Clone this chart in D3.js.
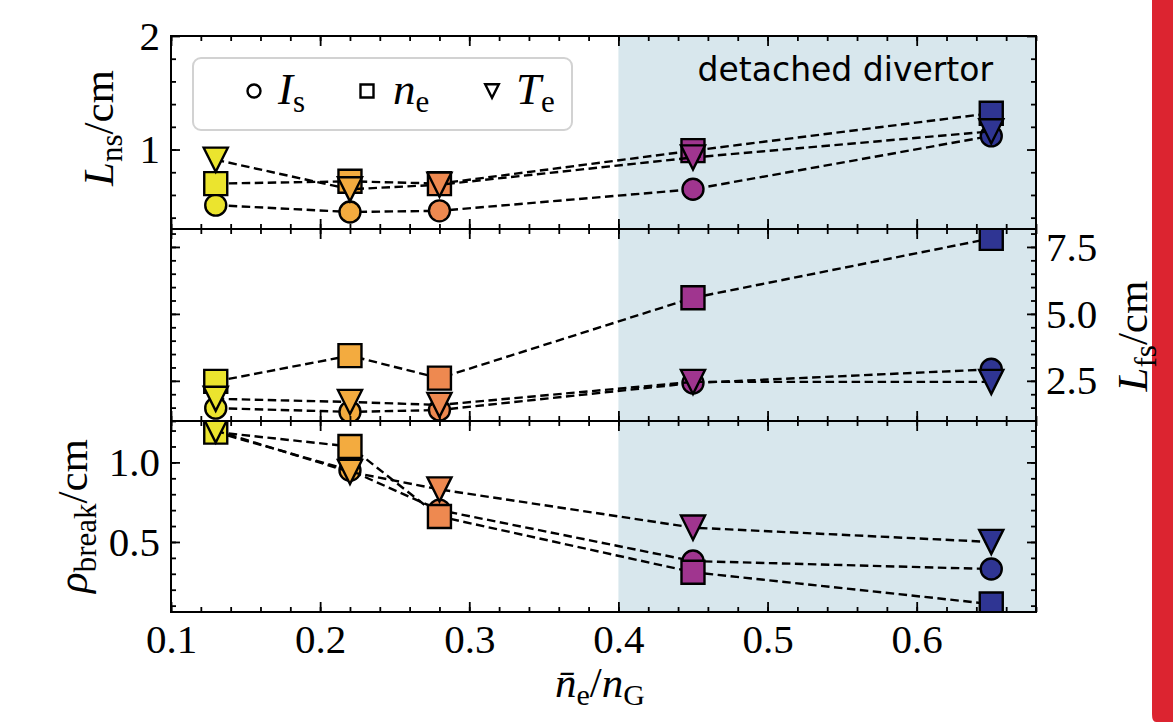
<!DOCTYPE html>
<html>
<head>
<meta charset="utf-8">
<script src="https://cdn.jsdelivr.net/npm/d3@7"></script>
<style>
  body { margin: 0; background: #fff; }
  text { font-family: 'Liberation Serif', serif; fill: #000; }
</style>
</head>
<body>
<script>
// density ratio nbar_e / n_G
var xVals = [0.13, 0.22, 0.28, 0.45, 0.65]
var pointColors = ['#ebe42e', '#f3ab3f', '#ee8950', '#a0358f', '#2f3593']

// near-SOL width L_ns (cm)
var lnsIs = [0.51, 0.45, 0.46, 0.65, 1.12]
var lnsNe = [0.70, 0.72, 0.70, 0.99, 1.32]
var lnsTe = [0.91, 0.65, 0.69, 0.93, 1.16]

// far-SOL width L_fs (cm)
var lfsIs = [1.48, 1.34, 1.41, 2.42, 2.93]
var lfsNe = [2.48, 3.44, 2.60, 5.60, 7.82]
var lfsTe = [1.83, 1.71, 1.60, 2.46, 2.46]

// break point rho_break (cm)
var rhoIs = [1.19, 0.95, 0.70, 0.38, 0.33]
var rhoNe = [1.19, 1.10, 0.66, 0.31, 0.11]
var rhoTe = [1.20, 0.94, 0.83, 0.59, 0.50]

var xTicks = [0.1, 0.2, 0.3, 0.4, 0.5, 0.6]
var lnsTicks = [1, 2]
var lfsTicks = [2.5, 5.0, 7.5]
var rhoTicks = [0.5, 1.0]
var detachedFrom = 0.4

var W = 1173, H = 722
var left = 171, right = 1036
var tickFont = '41px'

var svg = d3.select('body').append('svg').attr('width', W).attr('height', H)

var x = d3.scaleLinear().domain([0.1, 0.68]).range([left, right])

var panels = [
  {top: 36, bottom: 229, domain: [0.3, 2], series: [lnsIs, lnsNe, lnsTe],
    ticks: lnsTicks, minor: 0.2, side: 'left', fmt: d3.format('d')},
  {top: 229, bottom: 421, domain: [1.0, 8.17], series: [lfsIs, lfsNe, lfsTe],
    ticks: lfsTicks, minor: 0.5, side: 'right', fmt: d3.format('.1f')},
  {top: 421, bottom: 612, domain: [0.06, 1.26], series: [rhoIs, rhoNe, rhoTe],
    ticks: rhoTicks, minor: 0.1, side: 'left', fmt: d3.format('.1f')}
]

var shapes = ['circle', 'square', 'triangle']

function markerPath(shape, s){
  if (shape == 'circle') return d3.symbol(d3.symbolCircle, Math.PI*s*s)()
  if (shape == 'square') return `M${-s},${-s}H${s}V${s}H${-s}Z`
  var h = s*1.05
  return `M0,${h}L${-h},${-h}L${h},${-h}Z`
}

var defs = svg.append('defs')

// red strip on right edge
svg.append('path')
  .attr('d', `M1152,0H${W}V${H}H1156Q1152,${H} 1152,${H - 8}Z`)
  .attr('fill', '#dc2430')

panels.forEach((p, pi) => {
  var y = d3.scaleLinear().domain(p.domain).range([p.bottom, p.top])
  var id = 'clip' + pi
  defs.append('clipPath').attr('id', id)
    .append('rect').attr('x', left).attr('y', p.top)
    .attr('width', right - left).attr('height', p.bottom - p.top)

  var g = svg.append('g')

  // detached divertor region
  g.append('rect')
    .attr('x', x(detachedFrom)).attr('y', p.top)
    .attr('width', right - x(detachedFrom)).attr('height', p.bottom - p.top)
    .attr('fill', '#d8e7ed')

  var plot = g.append('g').attr('clip-path', `url(#${id})`)

  var line = d3.line().x((d, i) => x(xVals[i])).y(d => y(d))

  p.series.forEach((s, si) => {
    plot.append('path')
      .attr('d', line(s))
      .attr('fill', 'none')
      .attr('stroke', '#000')
      .attr('stroke-width', 2.4)
      .attr('stroke-dasharray', '8.5,4.5')

    plot.selectAll(null).data(s).enter().append('path')
      .attr('d', markerPath(shapes[si], shapes[si] == 'circle' ? 10.5 : 11.5))
      .attr('transform', (d, i) => `translate(${x(xVals[i])},${y(d)})`)
      .attr('fill', (d, i) => pointColors[i])
      .attr('stroke', '#000')
      .attr('stroke-width', 2.4)
  })

  // ticks, all inward
  var minorVals = d3.range(Math.ceil(p.domain[0]/p.minor)*p.minor, p.domain[1], p.minor)
  var xMinor = d3.range(0.1, 0.68, 0.02)

  function tickAxis(axis, vals, size, tx, ty, labels, pad){
    var a = axis.tickValues(vals).tickSizeInner(-size).tickSizeOuter(0)
      .tickPadding(pad || 10)
      .tickFormat(labels ? labels : '')
    var ag = g.append('g').attr('transform', `translate(${tx},${ty})`).call(a)
    ag.select('.domain').remove()
    ag.selectAll('line').attr('stroke', '#000').attr('stroke-width', 1.8)
    ag.selectAll('text').style('font-size', tickFont).style('font-family', 'Liberation Serif')
      .attr('fill', '#000')
    return ag
  }

  tickAxis(d3.axisLeft(y), minorVals, 5, left, 0)
  tickAxis(d3.axisRight(y), minorVals, 5, right, 0)
  tickAxis(d3.axisLeft(y), p.ticks, 9, left, 0, p.side == 'left' ? p.fmt : null, 11)
  tickAxis(d3.axisRight(y), p.ticks, 9, right, 0, p.side == 'right' ? p.fmt : null, 10)

  tickAxis(d3.axisBottom(x), xMinor, 5, 0, p.bottom)
  tickAxis(d3.axisTop(x), xMinor, 5, 0, p.top)
  tickAxis(d3.axisBottom(x), xTicks, 10, 0, p.bottom, pi == 2 ? d3.format('.1f') : null, 12)
  tickAxis(d3.axisTop(x), xTicks, 10, 0, p.top)

  g.append('rect')
    .attr('x', left).attr('y', p.top)
    .attr('width', right - left).attr('height', p.bottom - p.top)
    .attr('fill', 'none').attr('stroke', '#000').attr('stroke-width', 2)
})

svg.append('text')
  .attr('x', 993).attr('y', 81)
  .attr('text-anchor', 'end')
  .style('font-family', 'DejaVu Sans')
  .style('font-size', '33px')
  .text('detached divertor')

// legend
var leg = svg.append('g')
leg.append('rect')
  .attr('x', 193).attr('y', 58).attr('width', 379).attr('height', 72).attr('rx', 8)
  .attr('fill', '#fff').attr('fill-opacity', 0.8)
  .attr('stroke', '#d2d2d2').attr('stroke-width', 2)

var legItems = [
  {shape: 'circle', mx: 254, tx: 278, main: 'I', sub: 's'},
  {shape: 'square', mx: 367, tx: 393, main: 'n', sub: 'e'},
  {shape: 'triangle', mx: 492, tx: 516, main: 'T', sub: 'e'}
]
legItems.forEach(d => {
  leg.append('path')
    .attr('d', markerPath(d.shape, 6.5))
    .attr('transform', `translate(${d.mx},91)`)
    .attr('fill', 'none').attr('stroke', '#000').attr('stroke-width', 2.4)
  var t = leg.append('text').attr('x', d.tx).attr('y', 104).style('font-size', '45px')
  t.append('tspan').style('font-style', 'italic').text(d.main)
  t.append('tspan').attr('dy', 8).style('font-size', '31px').text(d.sub)
})

// axis labels
function mathLabel(sel, main, sub, rest, size){
  sel.append('tspan').style('font-style', 'italic').text(main)
  sel.append('tspan').attr('dy', size*0.2).style('font-size', size*0.72 + 'px').text(sub)
  sel.append('tspan').attr('dy', -size*0.2).text(rest)
}

var yl1 = svg.append('text').attr('transform', 'translate(113,128) rotate(-90)')
  .attr('text-anchor', 'middle').style('font-size', '43px')
mathLabel(yl1, 'L', 'ns', '/cm', 43)

var yl2 = svg.append('text').attr('transform', 'translate(1147,336) rotate(-90)')
  .attr('text-anchor', 'middle').style('font-size', '43px')
mathLabel(yl2, 'L', 'fs', '/cm', 43)

var yl3 = svg.append('text').attr('transform', 'translate(87,516) rotate(-90)')
  .attr('text-anchor', 'middle').style('font-size', '43px')
mathLabel(yl3, 'ρ', 'break', '/cm', 43)

var xl = svg.append('text').attr('x', 600).attr('y', 697)
  .attr('text-anchor', 'middle').style('font-size', '43px')
xl.append('tspan').style('font-style', 'italic').text('n\u0304')
xl.append('tspan').attr('dy', 8).style('font-size', '30px').text('e')
xl.append('tspan').attr('dy', -8).text('/')
xl.append('tspan').style('font-style', 'italic').text('n')
xl.append('tspan').attr('dy', 8).style('font-size', '30px').text('G')
</script>
</body>
</html>
